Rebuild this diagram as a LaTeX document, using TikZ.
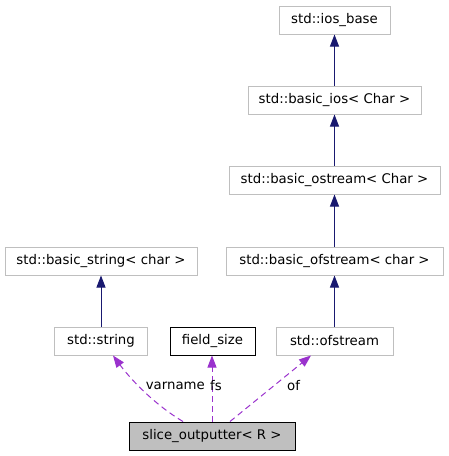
\documentclass[tikz,border=0pt]{standalone}
\usepackage{fontspec}
\setmainfont{DejaVu Sans}
\usetikzlibrary{arrows.meta}
\definecolor{boxgray}{HTML}{BFBFBF}
\definecolor{inh}{HTML}{191970}
\definecolor{usage}{HTML}{9A32CD}
\begin{document}
\begin{tikzpicture}[x=1pt,y=-1pt,
  cls/.style={draw=boxgray,fill=white,line width=1pt,inner sep=0pt,font=\fontsize{13.3}{15}\selectfont},
  inharrow/.style={draw=inh,line width=1pt,-{Triangle[length=12pt,width=9pt,fill=inh]}},
  usearrow/.style={draw=usage,line width=1pt,dash pattern=on 6pt off 4pt,-{Triangle[length=12pt,width=9pt,fill=usage]}},
  lbl/.style={font=\fontsize{13.3}{15}\selectfont,inner sep=0pt}]
\useasboundingbox (0,0) rectangle (448,456);
\node[cls,minimum width=111pt,minimum height=28pt] (iosbase) at (334.5,20) {std::ios\_base};
\node[cls,minimum width=173pt,minimum height=28pt] (basicios) at (334.5,100) {std::basic\_ios< Char >};
\node[cls,minimum width=211pt,minimum height=28pt] (ostream) at (334.5,180) {std::basic\_ostream< Char >};
\node[cls,minimum width=217pt,minimum height=28pt] (bofstream) at (334.5,261) {std::basic\_ofstream< char >};
\node[cls,minimum width=192pt,minimum height=28pt] (bstring) at (101,261) {std::basic\_string< char >};
\node[cls,minimum width=93pt,minimum height=28pt] (string) at (101,341) {std::string};
\node[cls,draw=black,minimum width=85pt,minimum height=28pt] (fsize) at (212.5,341) {field\_size};
\node[cls,minimum width=117pt,minimum height=28pt] (ofstream) at (334.5,341) {std::ofstream};
\node[cls,draw=black,fill=boxgray,minimum width=166pt,minimum height=28pt] (slice) at (212,436) {slice\_outputter< R >};
\draw[inharrow] (basicios) -- (iosbase);
\draw[inharrow] (ostream) -- (basicios);
\draw[inharrow] (bofstream) -- (ostream);
\draw[inharrow] (ofstream) -- (bofstream);
\draw[inharrow] (string) -- (bstring);
\draw[usearrow] (slice.north -| 183,0) .. controls (160,408) and (135,385) .. (string.south -| 113,0);
\draw[usearrow] (slice.north -| 212,0) -- (fsize.south -| 212,0);
\draw[usearrow] (slice.north -| 230,0) -- (ofstream.south -| 311,0);
\node[lbl,anchor=east] (lv) at (205,386) {varname};
\node[lbl,anchor=west] (lf) at (210,386) {fs};
\node[lbl,anchor=west] (lo) at (287,386) {of};
\end{tikzpicture}
\end{document}
